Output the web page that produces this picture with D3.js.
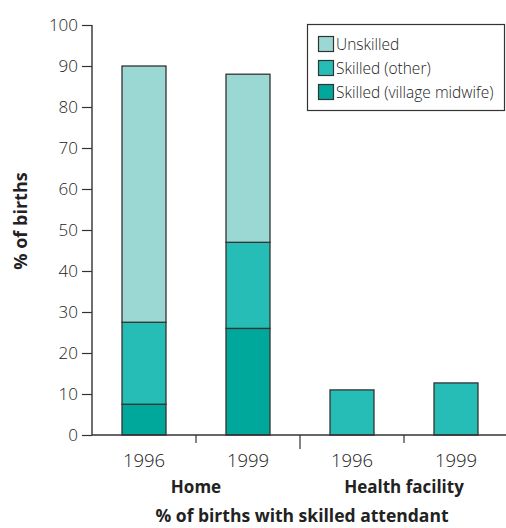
<!DOCTYPE html>
<html><head><meta charset="utf-8">
<script src="https://cdn.jsdelivr.net/npm/d3@7"></script>
<style>body{margin:0;background:#fff}svg{display:block}</style>
</head><body>
<svg id="c" width="506" height="528"></svg>
<script>
const categories = ["Home 1996","Home 1999","Health 1996","Health 1999"];
const yearLabels = ["1996","1999","1996","1999"];
const groupLabels = ["Home","Health facility"];
const seriesNames = ["Skilled (village midwife)","Skilled (other)","Unskilled"];
const midwife = [7.5, 26, 0, 0];
const skilledOther = [20, 21, 11, 12.7];
const unskilled = [62.5, 41, 0, 0];
const yTicks = [0,10,20,30,40,50,60,70,80,90,100];
const legendOrder = ["Unskilled","Skilled (other)","Skilled (village midwife)"];
const colors = {"Unskilled":"#9bd7d3","Skilled (other)":"#26bdb6","Skilled (village midwife)":"#00a79b"};

const font = "'Open Sans', sans-serif";
const svg = d3.select("#c");
const x0 = 92, yBottom = 435, yTop = 25;
const x = d3.scaleBand().domain(categories).range([x0, 508]).paddingInner(0).paddingOuter(0);
const y = d3.scaleLinear().domain([0,100]).range([yBottom, yTop]);
const barW = 44;

const rows = categories.map((c,i)=>({cat:c, "Skilled (village midwife)":midwife[i], "Skilled (other)":skilledOther[i], "Unskilled":unskilled[i]}));
const stack = d3.stack().keys(seriesNames)(rows);

stack.forEach(layer=>{
  svg.append("g").selectAll("rect").data(layer.filter(d=>d[1]-d[0]>0)).join("rect")
    .attr("x", d=>x(d.data.cat)+x.bandwidth()/2-barW/2)
    .attr("width", barW)
    .attr("y", d=>y(d[1]))
    .attr("height", d=>y(d[0])-y(d[1]))
    .attr("fill", colors[layer.key])
    .attr("stroke","#333").attr("stroke-width",1.3);
});

// y axis
const ya = svg.append("g").attr("transform",`translate(${x0},0)`)
  .call(d3.axisLeft(y).tickValues(yTicks).tickSize(10).tickPadding(4));
ya.select(".domain").attr("stroke","#333").attr("stroke-width",1.4).attr("d",`M-0,${yTop}V${yBottom}`);
ya.selectAll(".tick line").attr("stroke","#333").attr("stroke-width",1.2);
ya.selectAll(".tick text").attr("font-family",font).attr("font-size",17).attr("fill","#222").attr("font-weight",300);

// x axis line
svg.append("line").attr("x1",x0).attr("x2",506).attr("y1",yBottom).attr("y2",yBottom).attr("stroke","#333").attr("stroke-width",1.4);
// separator ticks
const sepTicks = categories.slice(1).map((c,i)=>({x:x(c), long:i===1}));
svg.append("g").selectAll("line").data(sepTicks).join("line")
  .attr("x1",d=>d.x).attr("x2",d=>d.x).attr("y1",yBottom).attr("y2",d=>yBottom+(d.long?14:8))
  .attr("stroke","#333").attr("stroke-width",1.2);

svg.append("g").selectAll("text").data(categories).join("text")
  .attr("x",(d)=>x(d)+x.bandwidth()/2).attr("y",467)
  .attr("text-anchor","middle").attr("font-family",font).attr("font-size",18.5).attr("font-weight",300).attr("fill","#222")
  .text((d,i)=>yearLabels[i]);

svg.append("g").selectAll("text").data(groupLabels).join("text")
  .attr("x",(d,i)=>x(categories[i*2+1]))
  .attr("y",493).attr("text-anchor","middle").attr("font-family",font).attr("font-size",17).attr("font-weight",700).attr("fill","#222")
  .text(d=>d);

svg.append("text").attr("x",302).attr("y",522).attr("text-anchor","middle")
  .attr("font-family",font).attr("font-size",17.5).attr("font-weight",700).attr("fill","#222")
  .text("% of births with skilled attendant");

svg.append("text").attr("transform",`translate(27,221) rotate(-90)`).attr("text-anchor","middle")
  .attr("font-family",font).attr("font-size",18).attr("font-weight",700).attr("fill","#222")
  .text("% of births");

// legend
const lg = svg.append("g");
lg.append("rect").attr("x",307.5).attr("y",24.5).attr("width",197).attr("height",86).attr("fill","#fff").attr("stroke","#333").attr("stroke-width",1.2);
legendOrder.forEach((k,i)=>{
  const cy = 44 + i*24;
  lg.append("rect").attr("x",318.5).attr("y",cy-7.5).attr("width",15).attr("height",15).attr("fill",colors[k]).attr("stroke","#333").attr("stroke-width",1.2);
  lg.append("text").attr("x",336).attr("y",cy+5.5).attr("font-family",font).attr("font-size",15.5).attr("font-weight",300).attr("fill","#222").text(k);
});
</script>
</body></html>
